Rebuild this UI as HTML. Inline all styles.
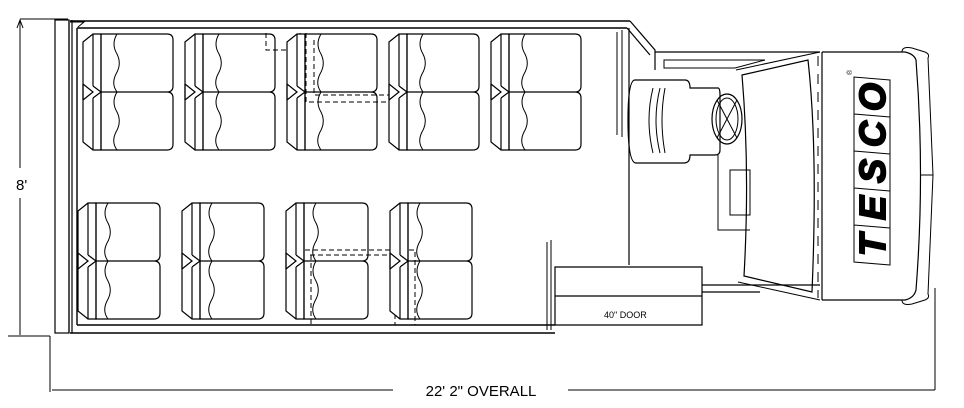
<!DOCTYPE html>
<html><head><style>body{margin:0;background:#fff}svg{display:block}</style></head><body>
<svg width="964" height="408" viewBox="0 0 964 408" xmlns="http://www.w3.org/2000/svg" font-family="Liberation Sans, sans-serif">
<defs>
<g id="arm">
  <path d="M0,8 L10,0 L18,0 L18,116 L10,116 L0,108 Z" fill="#fff" stroke="#000" stroke-width="1.2"/>
  <path d="M10,0 V52 M10,64 V116 M0,50 L10,58 L0,66 M10,52 L18,58 L10,64" fill="none" stroke="#000" stroke-width="1.2"/>
  <path d="M0,50 V66" stroke="#000" stroke-width="1.2"/>
</g>
<g id="seatT">
  <use href="#arm"/>
  <path d="M18,0 H84 Q90,0 90,6 V52 Q90,58 84,58 H18 Z M18,58 H84 Q90,58 90,64 V110 Q90,116 84,116 H18 Z" fill="none" stroke="#000" stroke-width="1.2"/>
  <path d="M18,4 V112" stroke="#000" stroke-dasharray="6,4"/>
  <path d="M34,0 q-6,10 0,20 q5,10 -1,20 q-5,10 1,18 q-6,10 0,20 q5,10 -1,20 q-5,10 1,18" fill="none" stroke="#000"/>
</g>
<g id="seatB">
  <use href="#arm"/>
  <path d="M18,0 H76 Q82,0 82,6 V52 Q82,58 76,58 H18 Z M18,58 H76 Q82,58 82,64 V110 Q82,116 76,116 H18 Z" fill="none" stroke="#000" stroke-width="1.2"/>
  <path d="M18,4 V112" stroke="#000" stroke-dasharray="6,4"/>
  <path d="M30,0 q-6,10 0,20 q5,10 -1,20 q-5,10 1,18 q-6,10 0,20 q5,10 -1,20 q-5,10 1,18" fill="none" stroke="#000"/>
</g>
</defs>
<g fill="none" stroke="#000" stroke-width="1.2">
<path d="M20,21 V168 M20,198 V335 M20,19 H68 M8,336 H50" stroke-width="1"/>
<path d="M17,28 L20,20 L23,28" stroke-width="1"/>
<path d="M50,336 V392 M52,390 H393 M568,390 H935 M935,288 V390" stroke-width="1"/>
<rect x="55" y="20" width="14" height="313"/>
<path d="M69,20 V333 M72,20 V333"/>
<path d="M70,21 H630 M77,28 H627 M77,28 V325 M70,333 H555 M77,325 H555" stroke-width="1.4"/>
<path d="M70,22 L84,22 L78,27" stroke-width="1"/>
<path d="M630,21 L655,50 V70 M627,28 L650,55 M629,28 V265 M655,52 H820" />
<path d="M617,32 V135 M622,30 V137" stroke-width="1"/>
<path d="M664,60 H765 L735,68 H664 Z" stroke-width="1"/>
<path d="M635,80 H685 Q690,80 690,88 H718 Q720,88 720,95 V150 Q720,155 715,155 H690 Q690,163 684,163 H636 Q628,163 628,120 Q628,80 635,80 Z"/>
<path d="M653,88 q-8,32 0,65 M660,88 q-8,32 0,65 M665,88 q-6,32 0,65" stroke-width="1"/>
<ellipse cx="727" cy="119" rx="15" ry="25"/>
<ellipse cx="727" cy="119" rx="11" ry="21" stroke-width="1"/>
<path d="M717,100 L737,138 M737,100 L717,138" stroke-width="1"/>
<path d="M718,155 V230 H750 M730,170 H750 V215 H730 Z" stroke-width="1"/>
<path d="M742,75 L808,60 Q818,150 812,292 L744,276 Q750,170 742,75 Z"/>
<path d="M736,70 L820,52 M738,282 L820,300" stroke-width="1"/>
<path d="M822,52 V300"/>
<path d="M818,56 V298" stroke-dasharray="10,8" stroke-width="1"/>
<path d="M822,52 H905 Q914,54 916,60 Q925,175 916,290 Q914,298 905,300 H822"/>
<path d="M902,52 Q902,46 912,48 L925,52 Q930,54 928,58 L933,175 L928,294 Q930,298 925,300 L912,304 Q902,306 902,300" stroke-width="1"/>
<path d="M933,175 H920" stroke-width="1"/>
<path d="M935,288 V300" stroke-width="1"/>
<path d="M555,267 H702 V325 H555 Z M555,296 H702 M702,285 H820 M702,292 H760" />
<path d="M547,242 V330 M551,240 V330" stroke-width="1"/>
<g stroke-dasharray="5,3" stroke-width="1">
<path d="M266,33 V50 H300 V33 M306,33 V102 H390 M314,40 V95 H395"/>
<path d="M305,250 H415 V325 M310,255 H395 V325 M311,255 V325"/>
</g>
</g>
<use href="#seatT" x="83" y="34"/>
<use href="#seatT" x="185" y="34"/>
<use href="#seatT" x="287" y="34"/>
<use href="#seatT" x="389" y="34"/>
<use href="#seatT" x="491" y="34"/>
<use href="#seatB" x="78" y="203"/>
<use href="#seatB" x="182" y="203"/>
<use href="#seatB" x="286" y="203"/>
<use href="#seatB" x="390" y="203"/>
<g transform="translate(872,265) rotate(-90)">
  <g fill="none" stroke="#000" stroke-width="1">
    <path d="M0,18 L3,-18 H188 L185,18 Z M37,18 L40,-18 M74,18 L77,-18 M111,18 L114,-18 M148,18 L151,-18"/>
  </g>
  <g font-size="36" font-weight="bold" font-style="italic" text-anchor="middle" stroke="#000" stroke-width="2">
    <text x="20" y="13">T</text>
    <text x="57" y="13">E</text>
    <text x="94" y="13">S</text>
    <text x="131" y="13">C</text>
    <text x="168" y="13">O</text>
  </g>
  <text x="190" y="-20" font-size="7">®</text>
</g>
<text x="16" y="190" font-size="15">8'</text>
<text x="481" y="396" font-size="15" text-anchor="middle">22' 2" OVERALL</text>
<text x="604" y="318" font-size="9">40" DOOR</text>
</svg>
</body></html>
